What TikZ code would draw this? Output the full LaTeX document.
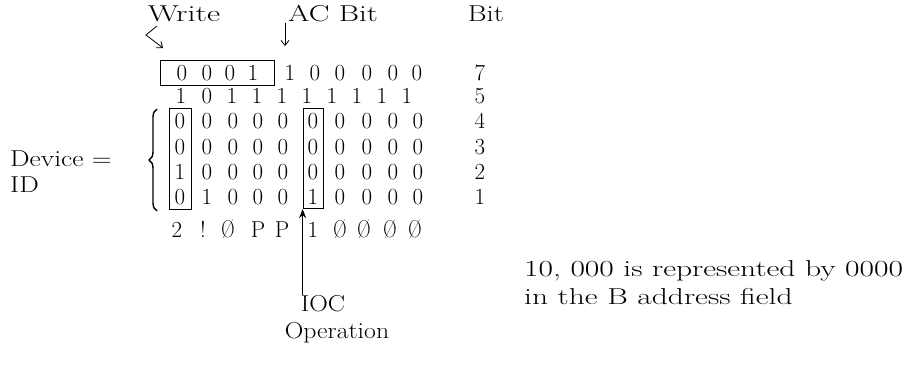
\documentclass[tikz,border=0pt]{standalone}
\usepackage{graphicx}
\usetikzlibrary{fit,decorations.pathreplacing,arrows.meta}
\newcommand{\W}[2][1.2]{\scalebox{#1}[1]{#2}}
\newcommand{\SZ}{\scalebox{0.8}[1.05]{Ø}}
\begin{document}
\begin{tikzpicture}[x=1pt,y=-1pt,
  every node/.style={font=\fontsize{23}{27}\selectfont, inner sep=0pt},
  dg/.style={anchor=base},
  lbl/.style={anchor=base},
  bx/.style={draw, line width=0.8pt},
  ln/.style={line width=0.8pt},
  barb/.style={ln, -{Straight Barb[length=5pt,width=8pt]}},
  stl/.style={ln, -{Stealth[length=9pt,width=7pt]}}]
\useasboundingbox (0,0) rectangle (913,386);

% header
\node[lbl] (write) at (184,21) {\W[1.4]{Write}};
\node[lbl] (acbit) at (333,21) {\W[1.35]{AC Bit}};
\node[lbl] (bit) at (486,21) {\W[1.25]{Bit}};

% row 7
\foreach \x/\d [count=\i] in {182/0,207/0,230/0,253/1,290/1,315/0,340/0,367/0,393/0,417/0}
  \node[dg] (r7c\i) at (\x,80) {\d};
% row 5
\foreach \x/\d [count=\i] in {181/1,207/0,232/1,257/1,282/1,307/1,332/1,357/1,382/1,407/1}
  \node[dg] (r5c\i) at (\x,103) {\d};
% rows 4..1
\foreach \r/\y/\a/\b/\c in {4/128/0/0/0,3/154/0/0/0,2/179/1/0/0,1/204/0/1/1}{
  \foreach \x/\d [count=\i] in {180/\a,207/\b,233/0,258/0,283/0,313/\c,340/0,367/0,393/0,418/0}
    \node[dg] (r\r c\i) at (\x,\y) {\d};
}
% bit numbers
\foreach \r/\y in {7/80,5/103,4/128,3/154,2/179,1/204}
  \node[dg] (b\r) at (480,\y) {\r};

% symbol row
\node[dg] (s1) at (177,237) {2};
\node[dg] (s2) at (203,237) {!};
\node[dg] (s3) at (228,237) {\SZ};
\node[dg] (s4) at (258,237) {P};
\node[dg] (s5) at (282,237) {P};
\node[dg] (s6) at (313,237) {1};
\node[dg] (s7) at (340,237) {\SZ};
\node[dg] (s8) at (364,237) {\SZ};
\node[dg] (s9) at (390,237) {\SZ};
\node[dg] (s10) at (415,237) {\SZ};

% boxes
\node[bx, inner xsep=16pt, inner ysep=4.5pt, fit=(r7c1)(r7c4)] (wbox) {};
\node[bx, inner xsep=5.5pt, inner ysep=4.5pt, fit=(r4c1)(r1c1)] (idbox) {};
\node[bx, inner xsep=4.5pt, inner ysep=4.5pt, fit=(r4c6)(r1c6)] (opbox) {};

% left label and brace
\node[lbl, anchor=base west] (device) at (10,166) {\W[1.2]{Device =}};
\node[lbl, anchor=base west] (id) at (10,192) {\W[1.2]{ID}};
\draw[line width=1.4pt, decorate, decoration={brace, amplitude=8pt, aspect=0.5}] (157,211) -- (157,109);

% bottom labels
\node[lbl] (ioc) at (323,311) {\W[1.12]{IOC}};
\node[lbl] (oper) at (337,338) {\W[1.12]{Operation}};

% right note
\node[lbl, anchor=base west] (note1) at (524,276) {\W[1.37]{10, 000 is represented by 0000}};
\node[lbl, anchor=base west] (note2) at (524,304) {\W[1.37]{in the B address field}};

% arrows
\coordinate (acstart) at (285,23);
\coordinate (acend) at (285,46);
\draw[barb] (acstart) -- (acend);
\coordinate (wstart) at (157,26);
\coordinate (wbend) at (146,35);
\coordinate (wend) at (163,48);
\draw[barb] (wstart) -- (wbend) -- (wend);
\draw[stl] (ioc.north -| opbox.west) -- (opbox.south west);
\end{tikzpicture}
\end{document}
